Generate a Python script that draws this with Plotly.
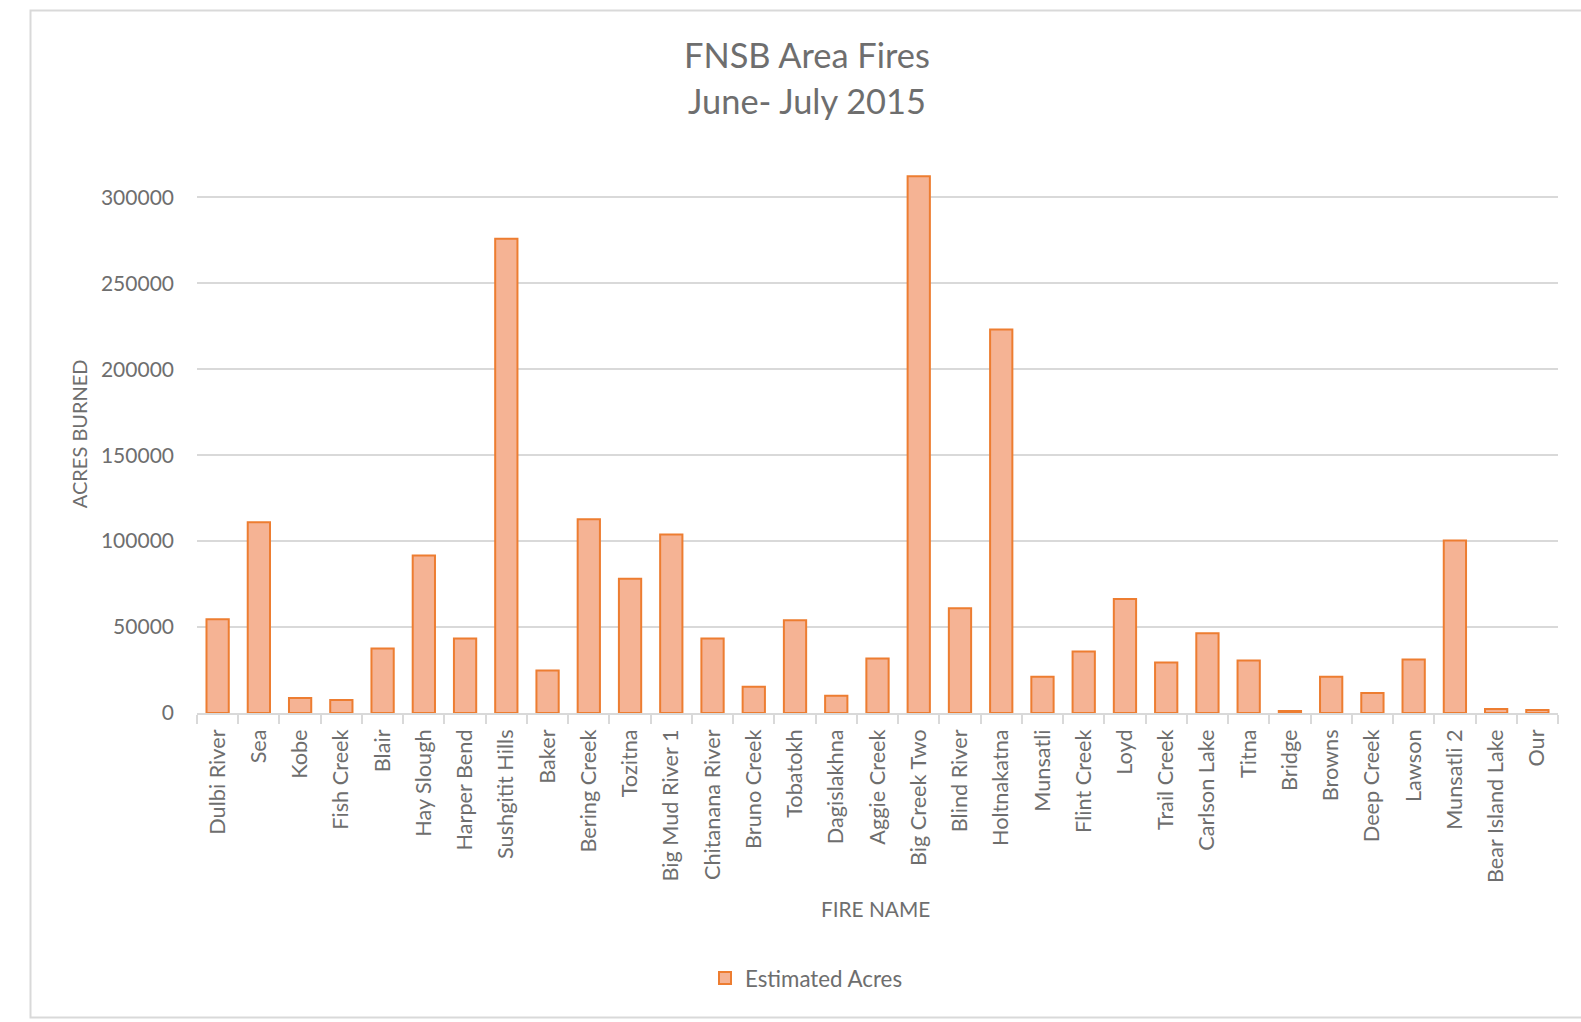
import plotly.graph_objects as go

# ---------------- data ----------------
fire_names = [
    "Dulbi River", "Sea", "Kobe", "Fish Creek", "Blair", "Hay Slough", "Harper Bend",
    "Sushgitit Hills", "Baker", "Bering Creek", "Tozitna", "Big Mud River 1",
    "Chitanana River", "Bruno Creek", "Tobatokh", "Dagislakhna", "Aggie Creek",
    "Big Creek Two", "Blind River", "Holtnakatna", "Munsatli", "Flint Creek", "Loyd",
    "Trail Creek", "Carlson Lake", "Titna", "Bridge", "Browns", "Deep Creek", "Lawson",
    "Munsatli 2", "Bear Island Lake", "Our",
]
estimated_acres = [
    54500, 111000, 8800, 7600, 37600, 91600, 43400,
    276000, 24700, 112700, 78100, 103900,
    43400, 15300, 54000, 10000, 31700,
    312300, 61000, 223100, 21100, 35800, 66300,
    29400, 46400, 30500, 1200, 21100, 11700, 31100,
    100400, 2300, 1700,
]
y_tick_values = [0, 50000, 100000, 150000, 200000, 250000, 300000]
y_tick_labels = ["0", "50000", "100000", "150000", "200000", "250000", "300000"]

title_line1 = "FNSB Area Fires"
title_line2 = "June- July 2015"
x_title = "FIRE NAME"
y_title = "ACRES BURNED"
series_name = "Estimated Acres"

# ---------------- layout geometry (pixels) ----------------
FIG_W, FIG_H = 1581, 1022
M_L, M_R, M_T, M_B = 197, 23, 163, 309
PW = FIG_W - M_L - M_R
PH = FIG_H - M_T - M_B


def px_x(p):
    return (p - M_L) / PW


def px_y(p):
    return (FIG_H - M_B - p) / PH


FONT = "Lato, 'Open Sans', sans-serif"
TXT = "#6e6e6e"
GRID = "#d9d9d9"

fig = go.Figure()
fig.add_trace(go.Bar(
    x=fire_names,
    y=estimated_acres,
    name=series_name,
    marker=dict(color="#f5b394", line=dict(color="#ed7d31", width=2)),
    showlegend=True,
))

fig.update_layout(
    width=FIG_W, height=FIG_H,
    margin=dict(l=M_L, r=M_R, t=M_T, b=M_B, autoexpand=False),
    paper_bgcolor="white", plot_bgcolor="white",
    font=dict(family=FONT, color=TXT, size=21),
    bargap=0.46,
    showlegend=True,
    legend=dict(
        orientation="h", x=px_x(705), xanchor="left",
        y=px_y(978), yanchor="middle",
        font=dict(size=22.3, color=TXT), bgcolor="rgba(0,0,0,0)",
    ),
    xaxis=dict(
        type="category", tickangle=-90, showgrid=False,
        showline=True, linecolor=GRID, linewidth=1.5,
        ticks="outside", tickson="boundaries", ticklen=9, tickcolor=GRID, tickwidth=1.5,
        ticklabelstandoff=6,
        tickfont=dict(size=21.7, color=TXT), fixedrange=True,
    ),
    yaxis=dict(
        range=[0, 320000], tickvals=y_tick_values, ticktext=y_tick_labels,
        showgrid=True, gridcolor=GRID, gridwidth=1.5, zeroline=False,
        showline=False, ticks="", ticklabelstandoff=22,
        tickfont=dict(size=21, color=TXT), fixedrange=True,
    ),
)

annotations = [
    dict(text=title_line1, x=px_x(807), y=px_y(54.5), xref="paper", yref="paper",
         showarrow=False, xanchor="center", yanchor="middle",
         font=dict(size=34.4, color=TXT, family=FONT)),
    dict(text=title_line2, x=px_x(807), y=px_y(100.5), xref="paper", yref="paper",
         showarrow=False, xanchor="center", yanchor="middle",
         font=dict(size=34.4, color=TXT, family=FONT)),
    dict(text=x_title, x=px_x(875), y=px_y(908.5), xref="paper", yref="paper",
         showarrow=False, xanchor="center", yanchor="middle",
         font=dict(size=20.8, color=TXT, family=FONT)),
    dict(text=y_title, x=px_x(78.6), y=px_y(433.6), xref="paper", yref="paper",
         showarrow=False, xanchor="center", yanchor="middle", textangle=-90,
         font=dict(size=20, color=TXT, family=FONT)),
]
fig.update_layout(annotations=annotations)

# outer chart-area border
fig.add_shape(type="rect", xref="paper", yref="paper",
              x0=px_x(30.5), x1=px_x(1600), y0=px_y(1017.5), y1=px_y(10.5),
              line=dict(color=GRID, width=2), fillcolor="rgba(0,0,0,0)", layer="below")

fig.write_html("out.html", config={"displayModeBar": False})
